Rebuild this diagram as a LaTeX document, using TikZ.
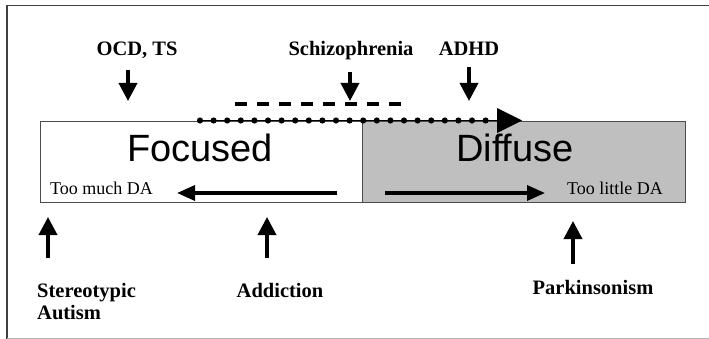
\documentclass[tikz,border=0pt]{standalone}
\usepackage{fontspec}
\setmainfont{Liberation Serif}
\newfontfamily\arialfont{Liberation Sans}
\usetikzlibrary{arrows.meta}

\tikzset{
  disorder/.style={font=\fontsize{20.5}{24}\selectfont\bfseries, anchor=base, inner sep=0pt},
  statelabel/.style={font=\arialfont\fontsize{38}{44}\selectfont, anchor=base, inner sep=0pt},
  dalabel/.style={font=\fontsize{18}{21}\selectfont, anchor=base, inner sep=0pt},
  pointer/.style={line width=3.6pt, -{Triangle[length=18pt,width=18pt]}},
  shift arrow/.style={line width=3.4pt, -{Triangle[length=18pt,width=15pt]}}
}

\begin{document}
\begin{tikzpicture}[x=1pt,y=-1pt]

\useasboundingbox (0,0) rectangle (709,339);

% outer frame
\draw[black!75, line width=1.3pt] (7,339)--(7,5.5)--(709,5.5);
\draw[black!30, line width=0.8pt] (7,338)--(709,338);

% the two halves of the bar
\draw[black!70, line width=0.8pt, fill=white] (40,121) rectangle (362,202);
\draw[black!70, line width=0.8pt, fill=gray!50] (362,121) rectangle (685,202);

\node[statelabel] (focused) at (200,162) {Focused};
\node[statelabel] (diffuse) at (515,162) {Diffuse};
\node[dalabel, anchor=base west] (much) at (50,195) {Too much DA};
\node[dalabel, anchor=base west] (little) at (567,195) {Too little DA};

% labels above
\node[disorder] (ocd) at (137,56) {OCD, TS};
\node[disorder] (schizo) at (351,56) {Schizophrenia};
\node[disorder] (adhd) at (469,56) {ADHD};

% labels below
\node[disorder, anchor=base west] (stereo) at (37,297) {Stereotypic};
\node[disorder, anchor=base west] (autism) at (37,319) {Autism};
\node[disorder] (addiction) at (280,297) {Addiction};
\node[disorder] (parkinson) at (593,294) {Parkinsonism};

% arrow ends
\coordinate (ocdtip) at (128,101);
\coordinate (schizotip) at (350,101);
\coordinate (adhdtip) at (469,101);
\coordinate (stereotip) at (48,217);
\coordinate (addicttip) at (267,217);
\coordinate (parktip) at (573,221);

\draw[pointer] (ocdtip |- ocd.south) ++(0,11) -- (ocdtip);
\draw[pointer] (schizotip |- schizo.south) ++(0,11) -- (schizotip);
\draw[pointer] (adhdtip |- adhd.south) ++(0,11) -- (adhdtip);
\draw[pointer] (48,258) -- (stereotip);
\draw[pointer] (267,258) -- (addicttip);
\draw[pointer] (573,264) -- (parktip);

% shifts inside the bar
\coordinate (leftstart) at (337,193);
\coordinate (lefttip) at (177,193);
\coordinate (rightstart) at (385,193);
\coordinate (righttip) at (545,193);
\draw[shift arrow] (leftstart) -- (lefttip);
\draw[shift arrow] (rightstart) -- (righttip);

% dashed and dotted spans
\draw[line width=3.4pt, dash pattern=on 12pt off 10pt] (235,104) -- (401,104);
\draw[line width=0.8pt] (200,120.5) -- (497,120.5);
\foreach \i in {0,...,21}{
  \fill (200+\i*13.6,120.5) circle (3.1pt);
}
\fill (497,108) -- (522,120.5) -- (497,133) -- cycle;

\end{tikzpicture}
\end{document}
